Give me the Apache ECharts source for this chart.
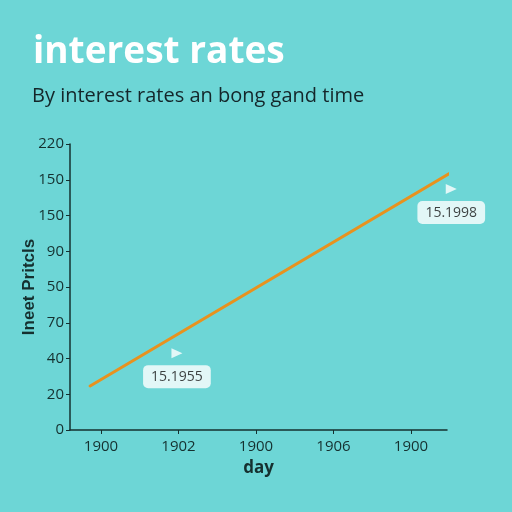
<!DOCTYPE html>
<html><head><meta charset="utf-8">
<script src="https://cdn.jsdelivr.net/npm/echarts@6/dist/echarts.min.js"></script>
<style>html,body{margin:0;padding:0;background:#6DD6D6;}#c{width:512px;height:512px;}</style>
</head><body><div id="c"></div>
<script>
var titleText = 'interest rates';
var subtitleText = 'By interest rates an bong gand time';
var yLabels = ['0','20','40','70','50','90','150','150','220'];
var xLabels = ['1900','1902','1900','1906','1900'];
var xName = 'day';
var yName = 'Ineet Pritcls';
// line series (x in tick-index units, y in tick-index units)
var lineX = [-0.14, 4.53];
var lineY = [1.23, 7.22];
// annotation markers
var noteX = [4.52, 0.98];
var noteY = [6.74, 2.15];
var noteText = ['15.1998', '15.1955'];

var chart = echarts.init(document.getElementById('c'));
var dark = '#15302f';
chart.setOption({
  backgroundColor: '#6DD6D6',
  animation: false,
  title: [
    {text: titleText, left: 28, top: 29, textStyle: {color: '#ffffff', fontSize: 37, fontWeight: 'bold', fontFamily: 'Open Sans'}},
    {text: subtitleText, left: 27, top: 81, textStyle: {color: '#14262a', fontSize: 20, fontWeight: 'normal', fontFamily: 'Open Sans'}}
  ],
  grid: {left: 70, right: 65, top: 144, bottom: 82, containLabel: false},
  xAxis: {
    type: 'value', min: -0.4, max: 4.465,
    name: xName, nameLocation: 'middle', nameGap: 30,
    nameTextStyle: {color: dark, fontSize: 17, fontWeight: 'bold', fontFamily: 'Open Sans'},
    axisLine: {show: true, lineStyle: {color: dark, width: 1.5}},
    axisTick: {show: true, length: 4, lineStyle: {color: dark}, customValues: [0,1,2,3,4]},
    axisLabel: {color: dark, fontSize: 15, fontFamily: 'Open Sans', margin: 9, customValues: [0,1,2,3,4],
      formatter: function(v){ return xLabels[Math.round(v)]; }},
    splitLine: {show: false}
  },
  yAxis: {
    type: 'value', min: 0, max: 8, interval: 1,
    name: yName, nameLocation: 'middle', nameGap: 32, nameRotate: 90, nameMoveOverlap: false,
    nameTextStyle: {color: dark, fontSize: 17, fontWeight: 'bold', fontFamily: 'Liberation Sans'},
    axisLine: {show: true, onZero: false, lineStyle: {color: dark, width: 1.5}},
    axisTick: {show: true, length: 4, lineStyle: {color: dark}},
    axisLabel: {color: dark, fontSize: 15, fontFamily: 'Open Sans', margin: 6,
      formatter: function(v){ return yLabels[Math.round(v)]; }},
    splitLine: {show: false}
  },
  series: [
    {type: 'line', data: lineX.map(function(x,i){return [x, lineY[i]];}), showSymbol: false, clip: false,
      lineStyle: {color: '#E8921E', width: 3, cap: 'round'}},
    {type: 'scatter', data: noteX.map(function(x,i){return [x, noteY[i]];}), symbol: 'triangle', symbolRotate: -90,
      symbolSize: [10, 11], clip: false, itemStyle: {color: '#ffffff'},
      label: {show: true, position: 'bottom', distance: 7,
        formatter: function(p){ return noteText[p.dataIndex]; },
        color: '#111', fontSize: 14, fontFamily: 'Open Sans', backgroundColor: '#ffffff',
        borderRadius: 5, padding: [5, 8, 4, 8]}}
  ]
});
</script></body></html>
